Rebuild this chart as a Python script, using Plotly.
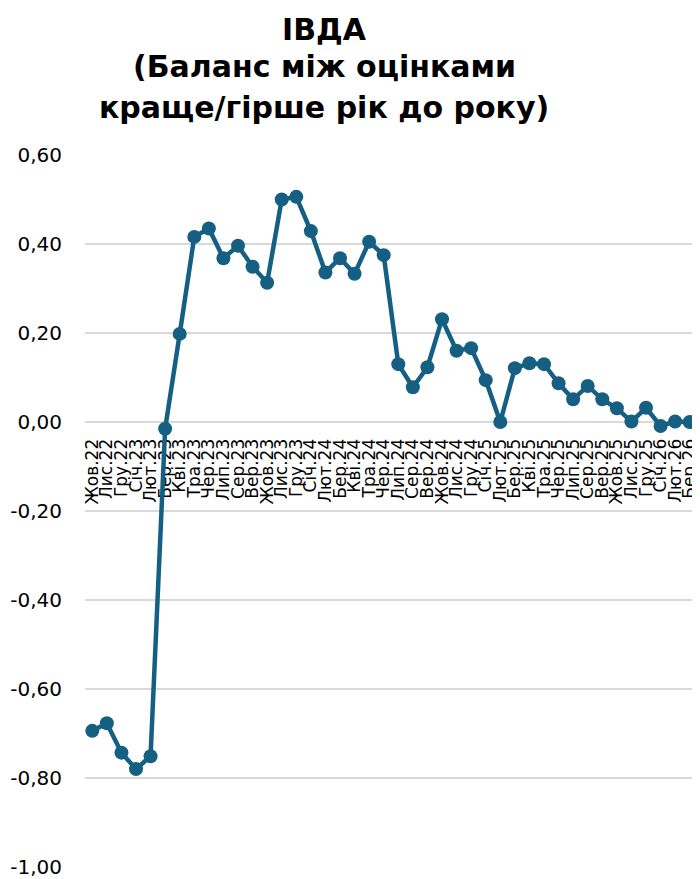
import plotly.graph_objects as go

months = ["Жов.22", "Лис.22", "Гру.22", "Січ.23", "Лют.23", "Бер.23", "Кві.23", "Тра.23",
          "Чер.23", "Лип.23", "Сер.23", "Вер.23", "Жов.23", "Лис.23", "Гру.23", "Січ.24",
          "Лют.24", "Бер.24", "Кві.24", "Тра.24", "Чер.24", "Лип.24", "Сер.24", "Вер.24",
          "Жов.24", "Лис.24", "Гру.24", "Січ.25", "Лют.25", "Бер.25", "Кві.25", "Тра.25",
          "Чер.25", "Лип.25", "Сер.25", "Вер.25", "Жов.25", "Лис.25", "Гру.25", "Січ.26",
          "Лют.26", "Бер.26"]

balance = [-0.694, -0.677, -0.743, -0.780, -0.751, -0.015, 0.198, 0.416,
           0.435, 0.368, 0.396, 0.349, 0.313, 0.500, 0.506, 0.429,
           0.336, 0.368, 0.333, 0.405, 0.375, 0.130, 0.078, 0.123,
           0.231, 0.160, 0.166, 0.094, 0.000, 0.121, 0.132, 0.130,
           0.087, 0.051, 0.081, 0.051, 0.031, 0.001, 0.032, -0.009,
           0.001, 0.000]

y_tickvals = [0.6, 0.4, 0.2, 0.0, -0.2, -0.4, -0.6, -0.8, -1.0]
y_ticktext = ["0,60", "0,40", "0,20", "0,00", "-0,20", "-0,40", "-0,60", "-0,80", "-1,00"]

title_lines = ["ІВДА", "(Баланс між оцінками", "краще/гірше рік до року)"]

y_min, y_max = -1.0, 0.6

# the page body has an 8px margin, so the figure is sized to fit the window
W, H = 692, 871
M_L, M_R, M_T, M_B = 77, 3, 147, 12
plot_w = W - M_L - M_R
plot_h = H - M_T - M_B

fig = go.Figure()
fig.add_trace(go.Scatter(
    x=months, y=balance, mode="lines+markers",
    line=dict(color="#156082", width=4.5),
    marker=dict(color="#156082", size=14),
    showlegend=False,
))

# title lines as annotations (vertical centres in figure pixels from the top)
title_centres_px = [21, 59, 100]
for line, cy in zip(title_lines, title_centres_px):
    fig.add_annotation(
        text=line, xref="paper", yref="paper",
        x=(316 - M_L) / plot_w, y=(H - M_B - cy) / plot_h,
        xanchor="center", yanchor="middle", showarrow=False,
        font=dict(family="DejaVu Sans", size=30, color="black", weight="bold"),
    )

fig.update_layout(
    width=W, height=H,
    margin=dict(l=M_L, r=M_R, t=M_T, b=M_B, autoexpand=False),
    paper_bgcolor="white", plot_bgcolor="white",
    xaxis=dict(
        type="category", range=[-0.5, len(months) - 0.5],
        tickmode="array", tickvals=months, ticktext=months,
        tickangle=-90, automargin=False,
        anchor="free", position=(0 - y_min) / (y_max - y_min),
        showgrid=False, showline=False, zeroline=False,
        ticks="outside", ticklen=9, tickcolor="rgba(0,0,0,0)",
        tickfont=dict(family="DejaVu Sans", size=17, color="black"),
        layer="below traces",
    ),
    yaxis=dict(
        range=[y_min, y_max], automargin=False,
        tickmode="array", tickvals=y_tickvals, ticktext=y_ticktext,
        showgrid=True, gridcolor="#d9d9d9", gridwidth=2,
        zeroline=False, showline=False,
        ticks="outside", ticklen=18, tickcolor="rgba(0,0,0,0)",
        tickfont=dict(family="DejaVu Sans", size=20, color="black"),
    ),
)

fig.write_html("out.html")
